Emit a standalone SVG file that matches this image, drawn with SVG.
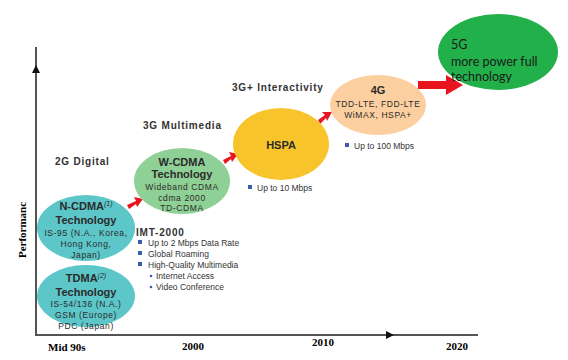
<svg xmlns="http://www.w3.org/2000/svg" width="568" height="360" viewBox="0 0 568 360">
<style>
.t{font-family:"Liberation Sans",Arial,sans-serif;fill:#2b2b2b;text-anchor:middle}
.h{font-weight:bold;font-size:11px}
.s{font-size:8.5px;letter-spacing:0.6px}
.hd{font-family:"Liberation Sans",Arial,sans-serif;font-weight:bold;font-size:10px;fill:#333;letter-spacing:0.8px}
.b{font-family:"Liberation Sans",Arial,sans-serif;font-size:8.5px;fill:#333}
.ax{font-family:"Liberation Serif","Times New Roman",serif;font-weight:bold;font-size:11px;fill:#000}
.sq{fill:#3a5db0}
.ar{fill:#e8141e}
</style>
<rect width="568" height="360" fill="#fff"/>
<g id="axes">
<line x1="36" y1="47" x2="36" y2="335" stroke="#555" stroke-width="2"/>
<polygon points="36,65 32,73 40,73" fill="#111"/>
<line x1="35" y1="335" x2="478" y2="335" stroke="#555" stroke-width="2"/>
<polygon points="394,335 386,331 386,339" fill="#111"/>
<text class="ax" transform="translate(26,230) rotate(-90)" text-anchor="middle" font-size="12">Performanc</text>
<text class="ax" x="48" y="351">Mid 90s</text>
<text class="ax" x="182" y="350">2000</text>
<text class="ax" x="312" y="346">2010</text>
<text class="ax" x="446" y="350">2020</text>
</g>
<g id="connectors">
<polygon class="ar" points="127,205 136,201 134,197 143,199 137,207 136,204 129,209"/>
<polygon class="ar" points="223,160 231,156 229,152 238,154 232,162 231,159 225,164"/>
<polygon class="ar" points="318,120 325,115 322,112 332,112 327,121 326,118 320,124"/>
<polygon class="ar" points="418,81 446,81 446,75 463,85 446,95 446,89 418,89"/>
</g>
<g id="ncdma">
<ellipse cx="86" cy="228" rx="49" ry="33" fill="#5cc6c8"/>
<text class="t h" x="86" y="210">N-CDMA<tspan font-size="7" font-weight="normal" font-style="italic" dy="-4">(1)</tspan></text>
<text class="t h" x="86" y="224">Technology</text>
<text class="t s" x="86" y="236">IS-95 (N.A., Korea,</text>
<text class="t s" x="86" y="247">Hong Kong,</text>
<text class="t s" x="86" y="258">Japan)</text>
</g>
<g id="tdma">
<ellipse cx="86" cy="296" rx="49" ry="31" fill="#5cc6c8"/>
<text class="t h" x="86" y="282">TDMA<tspan font-size="7" font-weight="normal" font-style="italic" dy="-4">(2)</tspan></text>
<text class="t h" x="86" y="296">Technology</text>
<text class="t s" x="86" y="307">IS-54/136 (N.A.)</text>
<text class="t s" x="86" y="318">GSM (Europe)</text>
<text class="t s" x="86" y="329">PDC (Japan)</text>
</g>
<g id="wcdma">
<ellipse cx="182" cy="181" rx="48" ry="33" fill="#8fd096"/>
<text class="t h" x="182" y="166">W-CDMA</text>
<text class="t h" x="182" y="178">Technology</text>
<text class="t s" x="182" y="190">Wideband CDMA</text>
<text class="t s" x="182" y="201">cdma 2000</text>
<text class="t s" x="182" y="211">TD-CDMA</text>
</g>
<g id="hspa">
<ellipse cx="281" cy="144" rx="48" ry="36" fill="#f8c42c"/>
<text class="t h" x="281" y="149">HSPA</text>
</g>
<g id="g4">
<ellipse cx="378" cy="105" rx="48" ry="30" fill="#fbcf9f"/>
<text class="t h" x="378" y="94">4G</text>
<text class="t s" x="378" y="107">TDD-LTE, FDD-LTE</text>
<text class="t s" x="378" y="118">WiMAX, HSPA+</text>
</g>
<g id="g5">
<ellipse cx="498" cy="52" rx="60" ry="38" fill="#22b04a"/>
<text font-family="Lato,'Open Sans',sans-serif" font-size="12.5" fill="#1a1a1a" x="451" y="49">5G</text>
<text font-family="Lato,'Open Sans',sans-serif" font-size="12.5" fill="#1a1a1a" x="451" y="66">more power full</text>
<text font-family="Lato,'Open Sans',sans-serif" font-size="12.5" fill="#1a1a1a" x="451" y="81">technology</text>
</g>
<g id="labels">
<text class="hd" x="55" y="165">2G Digital</text>
<text class="hd" x="143" y="129">3G Multimedia</text>
<text class="hd" x="232" y="91">3G+ Interactivity</text>
</g>
<g id="imt">
<text class="hd" x="136" y="236" letter-spacing="0.5">IMT-2000</text>
<rect class="sq" x="138" y="240" width="4" height="4"/>
<text class="b" x="148" y="246">Up to 2 Mbps Data Rate</text>
<rect class="sq" x="138" y="251" width="4" height="4"/>
<text class="b" x="148" y="257">Global Roaming</text>
<rect class="sq" x="138" y="262" width="4" height="4"/>
<text class="b" x="148" y="268">High-Quality Multimedia</text>
<circle class="sq" cx="151" cy="276" r="1.3"/>
<text class="b" x="156" y="279" font-size="8">Internet Access</text>
<circle class="sq" cx="151" cy="287" r="1.3"/>
<text class="b" x="156" y="290" font-size="8">Video Conference</text>
</g>
<g id="notes">
<rect class="sq" x="248" y="185" width="4" height="4"/>
<text class="b" x="257" y="191">Up to 10 Mbps</text>
<rect class="sq" x="345" y="143" width="4" height="4"/>
<text class="b" x="354" y="149">Up to 100 Mbps</text>
</g>
</svg>
